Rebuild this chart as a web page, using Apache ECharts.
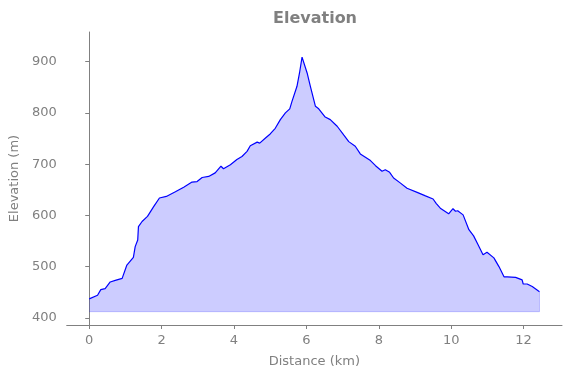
<!DOCTYPE html>
<html>
<head>
<meta charset="utf-8">
<title>Elevation</title>
<script src="https://cdn.jsdelivr.net/npm/echarts@6/dist/echarts.min.js"></script>
<style>
  html, body { margin: 0; padding: 0; background: #fff; }
  #chart { width: 571px; height: 378px; }
</style>
</head>
<body>
<div id="chart"></div>
<script>
// profile: distance in km, elevation in m
var distance = [0.00, 0.23, 0.32, 0.44, 0.58, 0.72, 0.91, 1.04, 1.22, 1.27, 1.34, 1.36, 1.46, 1.61,
  1.78, 1.94, 2.13, 2.38, 2.61, 2.84, 2.98, 3.12, 3.30, 3.48, 3.64, 3.71, 3.90, 4.08, 4.22, 4.36,
  4.45, 4.64, 4.71, 4.87, 5.00, 5.14, 5.28, 5.42, 5.54, 5.60, 5.74, 5.81, 5.88, 6.02, 6.11, 6.25,
  6.34, 6.52, 6.66, 6.85, 7.03, 7.17, 7.35, 7.49, 7.77, 7.91, 8.09, 8.18, 8.30, 8.41, 8.60, 8.78,
  9.06, 9.29, 9.50, 9.59, 9.70, 9.93, 10.05, 10.12, 10.18, 10.33, 10.49, 10.62, 10.74, 10.88,
  10.99, 11.18, 11.32, 11.46, 11.55, 11.78, 11.96, 11.99, 12.10, 12.24, 12.44];
var elevation = [437, 444, 455, 457, 470, 473, 477, 503, 518, 539, 552, 578, 588, 598,
  617, 634, 637, 646, 655, 665, 666, 674, 676, 683, 696, 691, 699, 709, 715, 725,
  736, 743, 741, 751, 759, 770, 787, 800, 808, 822, 852, 878, 909, 878, 852, 813,
  808, 792, 787, 774, 757, 744, 735, 720, 707, 697, 686, 689, 684, 673, 663, 653,
  645, 638, 632, 623, 614, 603, 613, 608, 609, 601, 572, 560, 543, 523,
  528, 517, 500, 480, 480, 479, 474, 466, 466, 461, 451];
var baseline = 412;
var xTicks = [0, 2, 4, 6, 8, 10, 12];
var yTicks = [400, 500, 600, 700, 800, 900];

var gray = '#808080';
var profile = distance.map(function (d, i) { return [d, elevation[i]]; });
var last = distance.length - 1;
var fillEdge = [[distance[0], baseline], [distance[last], baseline], [distance[last], elevation[last]]];

var chart = echarts.init(document.getElementById('chart'));
chart.setOption({
  animation: false,
  textStyle: { fontFamily: 'DejaVu Sans' },
  title: {
    text: 'Elevation',
    left: 268,
    top: 6,
    textStyle: { color: gray, fontSize: 16, fontWeight: 'bold', fontFamily: 'DejaVu Sans' }
  },
  grid: { left: 66, right: 9, top: 32, bottom: 53 },
  xAxis: {
    type: 'value',
    min: -0.622,
    max: 13.062,
    name: 'Distance (km)',
    nameLocation: 'middle',
    nameGap: 30,
    nameTextStyle: { color: gray, fontSize: 13 },
    axisLine: { lineStyle: { color: gray, width: 1 } },
    axisTick: { customValues: xTicks, length: 4, lineStyle: { color: gray } },
    axisLabel: { customValues: xTicks, color: gray, fontSize: 13, margin: 9 },
    splitLine: { show: false }
  },
  yAxis: {
    type: 'value',
    min: 386,
    max: 958,
    name: 'Elevation (m)',
    nameLocation: 'middle',
    nameGap: 41,
    nameTextStyle: { color: gray, fontSize: 13 },
    axisLine: { show: true, lineStyle: { color: gray, width: 1 } },
    axisTick: { show: true, customValues: yTicks, length: 4, lineStyle: { color: gray } },
    axisLabel: { customValues: yTicks, color: gray, fontSize: 13, margin: 10 },
    splitLine: { show: false }
  },
  series: [
    {
      type: 'line',
      data: fillEdge,
      showSymbol: false,
      lineStyle: { color: 'rgba(0,0,255,0.2)', width: 1 },
      z: 1
    },
    {
      type: 'line',
      data: profile,
      showSymbol: false,
      lineStyle: { color: '#0000ff', width: 1.2 },
      areaStyle: { color: 'rgba(0,0,255,0.2)', origin: baseline, opacity: 1 },
      z: 2
    }
  ]
});
</script>
</body>
</html>
